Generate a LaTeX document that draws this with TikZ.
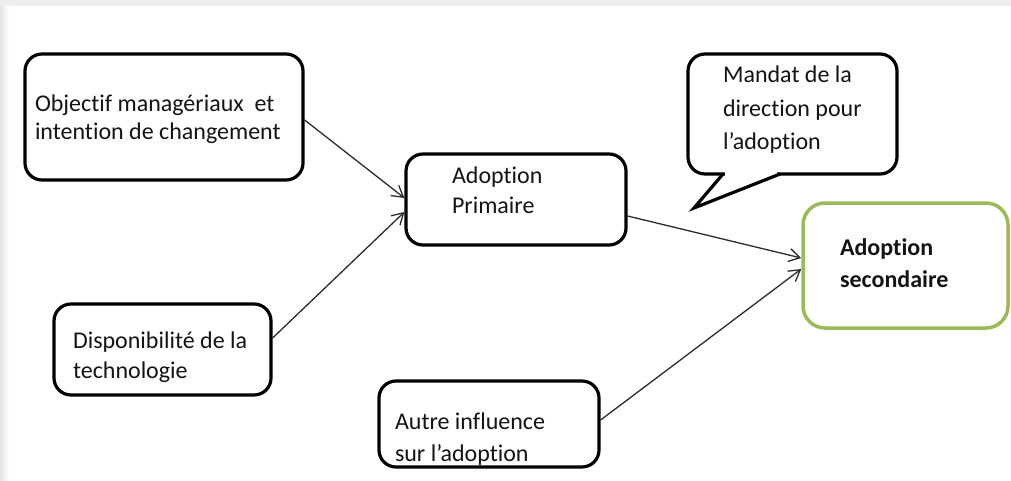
\documentclass[tikz,border=0pt]{standalone}
\usepackage{fontspec}
\setmainfont{Carlito}[Ligatures={NoCommon,NoContextual}]
\usetikzlibrary{arrows.meta}
\definecolor{boxgreen}{HTML}{9BBB59}
\definecolor{linkgray}{HTML}{2B2B2B}
% multi-line label: first baseline is the node's base
\newcommand{\boxtext}[2]{\fontsize{24}{#1}\selectfont\begin{tabular}[t]{@{}l@{}}#2\end{tabular}}
\begin{document}
\begin{tikzpicture}[x=1pt,y=-1pt,
  box/.style={draw=black, line width=3.2pt, rounded corners=17pt, fill=white, inner sep=0pt},
  txt/.style={anchor=base west, inner sep=0pt, outer sep=0pt, text=black!92},
  link/.style={draw=linkgray, line width=1.3pt, -{Straight Barb[length=11pt,width=13pt,line width=1.3pt]}}]
\useasboundingbox (0,0) rectangle (1011,481);
% page edge shading
\fill[black!7] (0,0) rectangle (1011,6);
\shade[left color=black!10, right color=white] (0,6) rectangle (9,481);

% boxes
\node[box, minimum width=278pt, minimum height=126pt] (obj) at (164,117) {};
\node[box, minimum width=220pt, minimum height=91pt] (prim) at (516,199.5) {};
\node[box, minimum width=217pt, minimum height=91pt] (dispo) at (162.5,349.5) {};
\node[box, minimum width=220pt, minimum height=86pt] (autre) at (489,424) {};
\node[box, draw=boxgreen, line width=3.5pt, rounded corners=22pt,
      minimum width=205pt, minimum height=125pt] (second) at (905.5,265.5) {};

% speech bubble
\node[box, minimum width=209pt, minimum height=120pt] (mand) at (792.5,114) {};
\fill[white] (725,170) rectangle (777,177);
\coordinate (tailL) at (723,174);
\coordinate (tip) at (694,208);
\coordinate (tailR) at (780,174);
\draw[line width=3.2pt, line join=miter, line cap=round] (tailL) -- (tip) -- (tailR);

% labels
\node[txt] (objT) at (35,112) {\boxtext{28pt}{Objectif managériaux\ \ et\\intention de changement}};
\node[txt] (primT) at (452,183) {\boxtext{30pt}{Adoption\\Primaire}};
\node[txt] (dispoT) at (73,348) {\boxtext{30pt}{Disponibilité de la\\technologie}};
\node[txt] (autreT) at (395,429) {\boxtext{32pt}{Autre influence\\sur l’adoption}};
\node[txt] (mandT) at (723,83) {\boxtext{33.5pt}{Mandat de la\\direction pour\\l’adoption}};
\node[txt, font=\bfseries] (secT) at (840,255) {\boxtext{32pt}{Adoption\\secondaire}};

% connectors
\draw[link] ([yshift=-3pt]obj.east) -- ([yshift=1.5pt]prim.west);
\draw[link] ([yshift=11.5pt]dispo.east) -- ([yshift=-12.5pt]prim.west);
\draw[link] ([yshift=-16.5pt]prim.east) -- ([yshift=7.5pt]second.west);
\draw[link] ([yshift=4pt]autre.east) -- ([yshift=-3.5pt]second.west);
\end{tikzpicture}
\end{document}
